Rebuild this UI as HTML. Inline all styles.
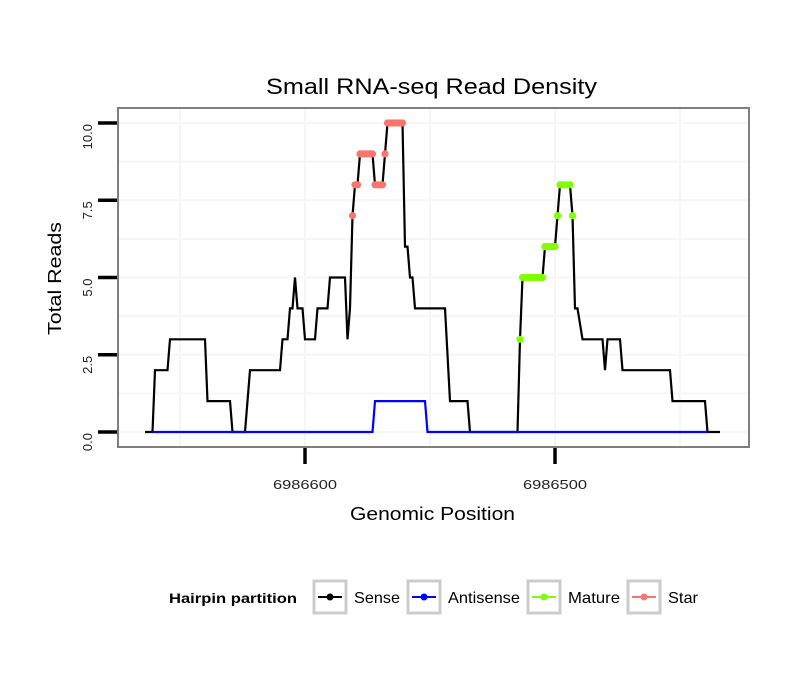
<!DOCTYPE html>
<html><head><meta charset="utf-8"><style>
body{margin:0;background:#fff;}
svg{display:block;font-family:"Liberation Sans",sans-serif;}
</style></head><body>
<svg id="chart" width="810" height="690">
</svg>
<script>
// Data (genomic position offsets from 6986600, values in reads)
const senseOffsets=[64,61,60,55,54,40,39,30,29,24,22,10,9,7,6,5,4,3,1,0,-4,-5,-9,-10,-16,-17,-18,-19,-20,-21,-22,-27,-28,-31,-32,-33,-39,-40,-41,-42,-43,-44,-56,-58,-65,-66,-85,-86,-87,-95,-96,-100,-101,-102,-106,-107,-108,-109,-111,-119,-120,-121,-126,-127,-146,-147,-160,-161,-166];
const senseValues=[0,0,2,2,3,3,1,1,0,0,2,2,3,3,4,4,5,4,4,3,3,4,4,5,5,3,4,7,8,8,9,9,8,8,9,10,10,6,6,5,5,4,4,1,1,0,0,3,5,5,6,6,7,8,8,7,4,4,3,3,2,3,3,2,2,1,1,0,0];
const antiOffsets=[61,-27,-28,-48,-49,-161];
const antiValues=[0,0,1,1,0,0];
const starStart=-19;
const starValues=[7,8,8,9,9,9,9,9,9,8,8,8,8,9,10,10,10,10,10,10,10];
const matureStart=-86;
const matureValues=[3,5,5,5,5,5,5,5,5,5,6,6,6,6,6,7,8,8,8,8,8,7];
const yTicks=[0,2.5,5,7.5,10];
const yTickLabels=["0.0","2.5","5.0","7.5","10.0"];
const xTicks=[6986600,6986500];
const xTickLabels=["6986600","6986500"];

const NS="http://www.w3.org/2000/svg";
const svg=document.getElementById('chart');
const L=118,R=749,T=108,B=447;
function X(pos){return 305-(pos-6986600)*2.5;}
function Y(v){return 432-v*30.9;}
function mk(tag,attrs,parent){const e=document.createElementNS(NS,tag);for(const k in attrs)e.setAttribute(k,attrs[k]);(parent||svg).appendChild(e);return e;}

const bg=mk('rect',{x:L,y:T,width:R-L,height:B-T,fill:'#fff'});


for(let v=0;v<=10;v+=1.25){const g=mk('line',{x1:L,x2:R,y1:Y(v),y2:Y(v),stroke:'#f6f6f6','stroke-width':2});

}
[6986650,6986600,6986550,6986500,6986450].forEach(p=>{const g=mk('line',{x1:X(p),x2:X(p),y1:T,y2:B,stroke:'#f6f6f6','stroke-width':2});

});

function line(offs,vals,color,name){
  const pts=offs.map((o,i)=>X(6986600+o).toFixed(1)+','+Y(vals[i]).toFixed(1)).join(' ');
  const p=mk('polyline',{points:pts,fill:'none',stroke:color,'stroke-width':2.2,'stroke-linejoin':'miter'});
  
  
}
line(senseOffsets,senseValues,'#000','sense-line');
line(antiOffsets,antiValues,'#0000ff','antisense-line');
function pts(start,vals,color,name){
  vals.forEach((v,i)=>{const c=mk('circle',{cx:X(6986600+start-i),cy:Y(v),r:3.6,fill:color});
  
  });
}
pts(starStart,starValues,'#f8766d','star-point');
pts(matureStart,matureValues,'#7fff00','mature-point');

const border=mk('rect',{x:L,y:T,width:R-L,height:B-T,fill:'none',stroke:'#7f7f7f','stroke-width':2});



yTicks.forEach((v,i)=>{
  const t=mk('line',{x1:98,x2:117,y1:Y(v),y2:Y(v),stroke:'#000','stroke-width':3.5});
  
  
  const tx=mk('text',{x:0,y:0,transform:`translate(92,${Y(v)+1}) rotate(-90)`,'text-anchor':'end','font-size':13,fill:'#222'});
  tx.textContent=yTickLabels[i];
  
  
});
xTicks.forEach((p,i)=>{
  const t=mk('line',{x1:X(p),x2:X(p),y1:448,y2:464,stroke:'#000','stroke-width':3.5});
  
  
  const tx=mk('text',{x:X(p)-32,y:489,'font-size':13,fill:'#222',textLength:64,lengthAdjust:'spacingAndGlyphs'});
  tx.textContent=xTickLabels[i];
  
  
});
</script>
<svg width="810" height="690" style="position:absolute;left:0;top:0">
<text x="266" y="94" font-size="22" fill="#000" font-family="Liberation Sans,sans-serif" textLength="331" lengthAdjust="spacingAndGlyphs">Small RNA-seq Read Density</text>
<text x="350" y="520" font-size="18" fill="#000" font-family="Liberation Sans,sans-serif" textLength="165" lengthAdjust="spacingAndGlyphs">Genomic Position</text>
<text transform="translate(61,335) rotate(-90)" font-size="18" fill="#000" font-family="Liberation Sans,sans-serif" textLength="113" lengthAdjust="spacingAndGlyphs">Total Reads</text>
<g font-family="Liberation Sans,sans-serif">
<text x="169" y="603" font-size="14" font-weight="bold" textLength="128" lengthAdjust="spacingAndGlyphs">Hairpin partition</text>
<g><rect x="314" y="581" width="32" height="32" fill="#fff" stroke="#ccc" stroke-width="3"/><line x1="318" x2="342" y1="597" y2="597" stroke="#000" stroke-width="2"/><circle cx="330" cy="597" r="3.5" fill="#000"/><text x="354" y="603" font-size="16" textLength="46" lengthAdjust="spacingAndGlyphs">Sense</text></g>
<g><rect x="408" y="581" width="32" height="32" fill="#fff" stroke="#ccc" stroke-width="3"/><line x1="412" x2="436" y1="597" y2="597" stroke="#0000ff" stroke-width="2"/><circle cx="424" cy="597" r="3.5" fill="#0000ff"/><text x="448" y="603" font-size="16" textLength="72" lengthAdjust="spacingAndGlyphs">Antisense</text></g>
<g><rect x="528" y="581" width="32" height="32" fill="#fff" stroke="#ccc" stroke-width="3"/><line x1="532" x2="556" y1="597" y2="597" stroke="#7fff00" stroke-width="2"/><circle cx="544" cy="597" r="3.5" fill="#7fff00"/><text x="568" y="603" font-size="16" textLength="52" lengthAdjust="spacingAndGlyphs">Mature</text></g>
<g><rect x="628" y="581" width="32" height="32" fill="#fff" stroke="#ccc" stroke-width="3"/><line x1="632" x2="656" y1="597" y2="597" stroke="#f8766d" stroke-width="2"/><circle cx="644" cy="597" r="3.5" fill="#f8766d"/><text x="668" y="603" font-size="16" textLength="30" lengthAdjust="spacingAndGlyphs">Star</text></g>
</g>
</svg>
</body></html>
